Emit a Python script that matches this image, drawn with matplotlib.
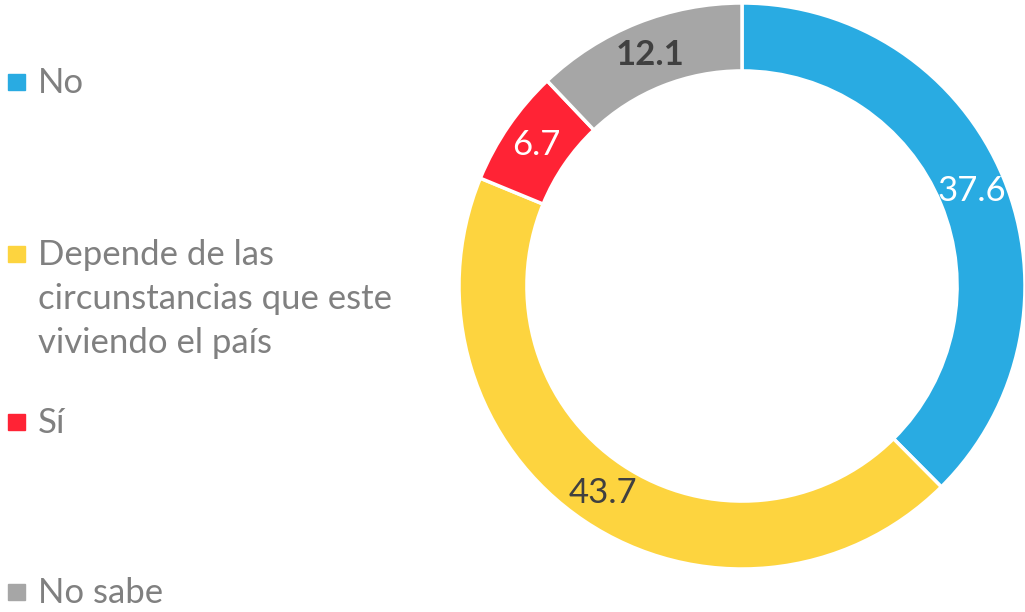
import numpy as np
import matplotlib.pyplot as plt
from matplotlib.patches import Rectangle

# datos de la encuesta (porcentajes)
categorias = ['No', 'Depende de las\ncircunstancias que este\nviviendo el país', 'Sí', 'No sabe']
valores = [37.6, 43.7, 6.7, 12.1]
colores = ['#29ABE2', '#FDD43F', '#FF2335', '#A6A6A6']
color_etiqueta = ['white', '#404040', 'white', '#404040']
peso_etiqueta = ['normal', 'normal', 'normal', 'bold']

plt.rcParams['font.family'] = ['Lato', 'DejaVu Sans']

W, H = 1025, 612
fig = plt.figure(figsize=(W / 100, H / 100), dpi=100)

# dona
cx, cy, R = 742, 286, 283
ax = fig.add_axes([(cx - R) / W, (H - cy - R) / H, 2 * R / W, 2 * R / H])
wedges, _ = ax.pie(valores, colors=colores, startangle=90, counterclock=False,
                   radius=1.0, labeldistance=None,
                   wedgeprops=dict(width=0.24, edgecolor='white', linewidth=2.5))
for i, w in enumerate(wedges):
    ang = np.deg2rad((w.theta1 + w.theta2) / 2)
    r = 0.88
    ax.text(r * np.cos(ang), r * np.sin(ang), f'{valores[i]:.1f}',
            ha='center', va='center', fontsize=25, color=color_etiqueta[i],
            fontweight=peso_etiqueta[i])
ax.set_xlim(-1, 1)
ax.set_ylim(-1, 1)
ax.set_aspect('equal')
ax.axis('off')

# leyenda manual
base_y = [93, 265, 433, 603]
for i, cat in enumerate(categorias):
    y = base_y[i]
    fig.patches.append(Rectangle((8 / W, (H - y + 3) / H), 17 / W, 16 / H,
                                 transform=fig.transFigure, color=colores[i]))
    for j, linea in enumerate(cat.split('\n')):
        fig.text(38 / W, (H - y - 44 * j) / H, linea, fontsize=25, color='#808080',
                 va='baseline', ha='left')

fig.savefig('out.png', dpi=100)
